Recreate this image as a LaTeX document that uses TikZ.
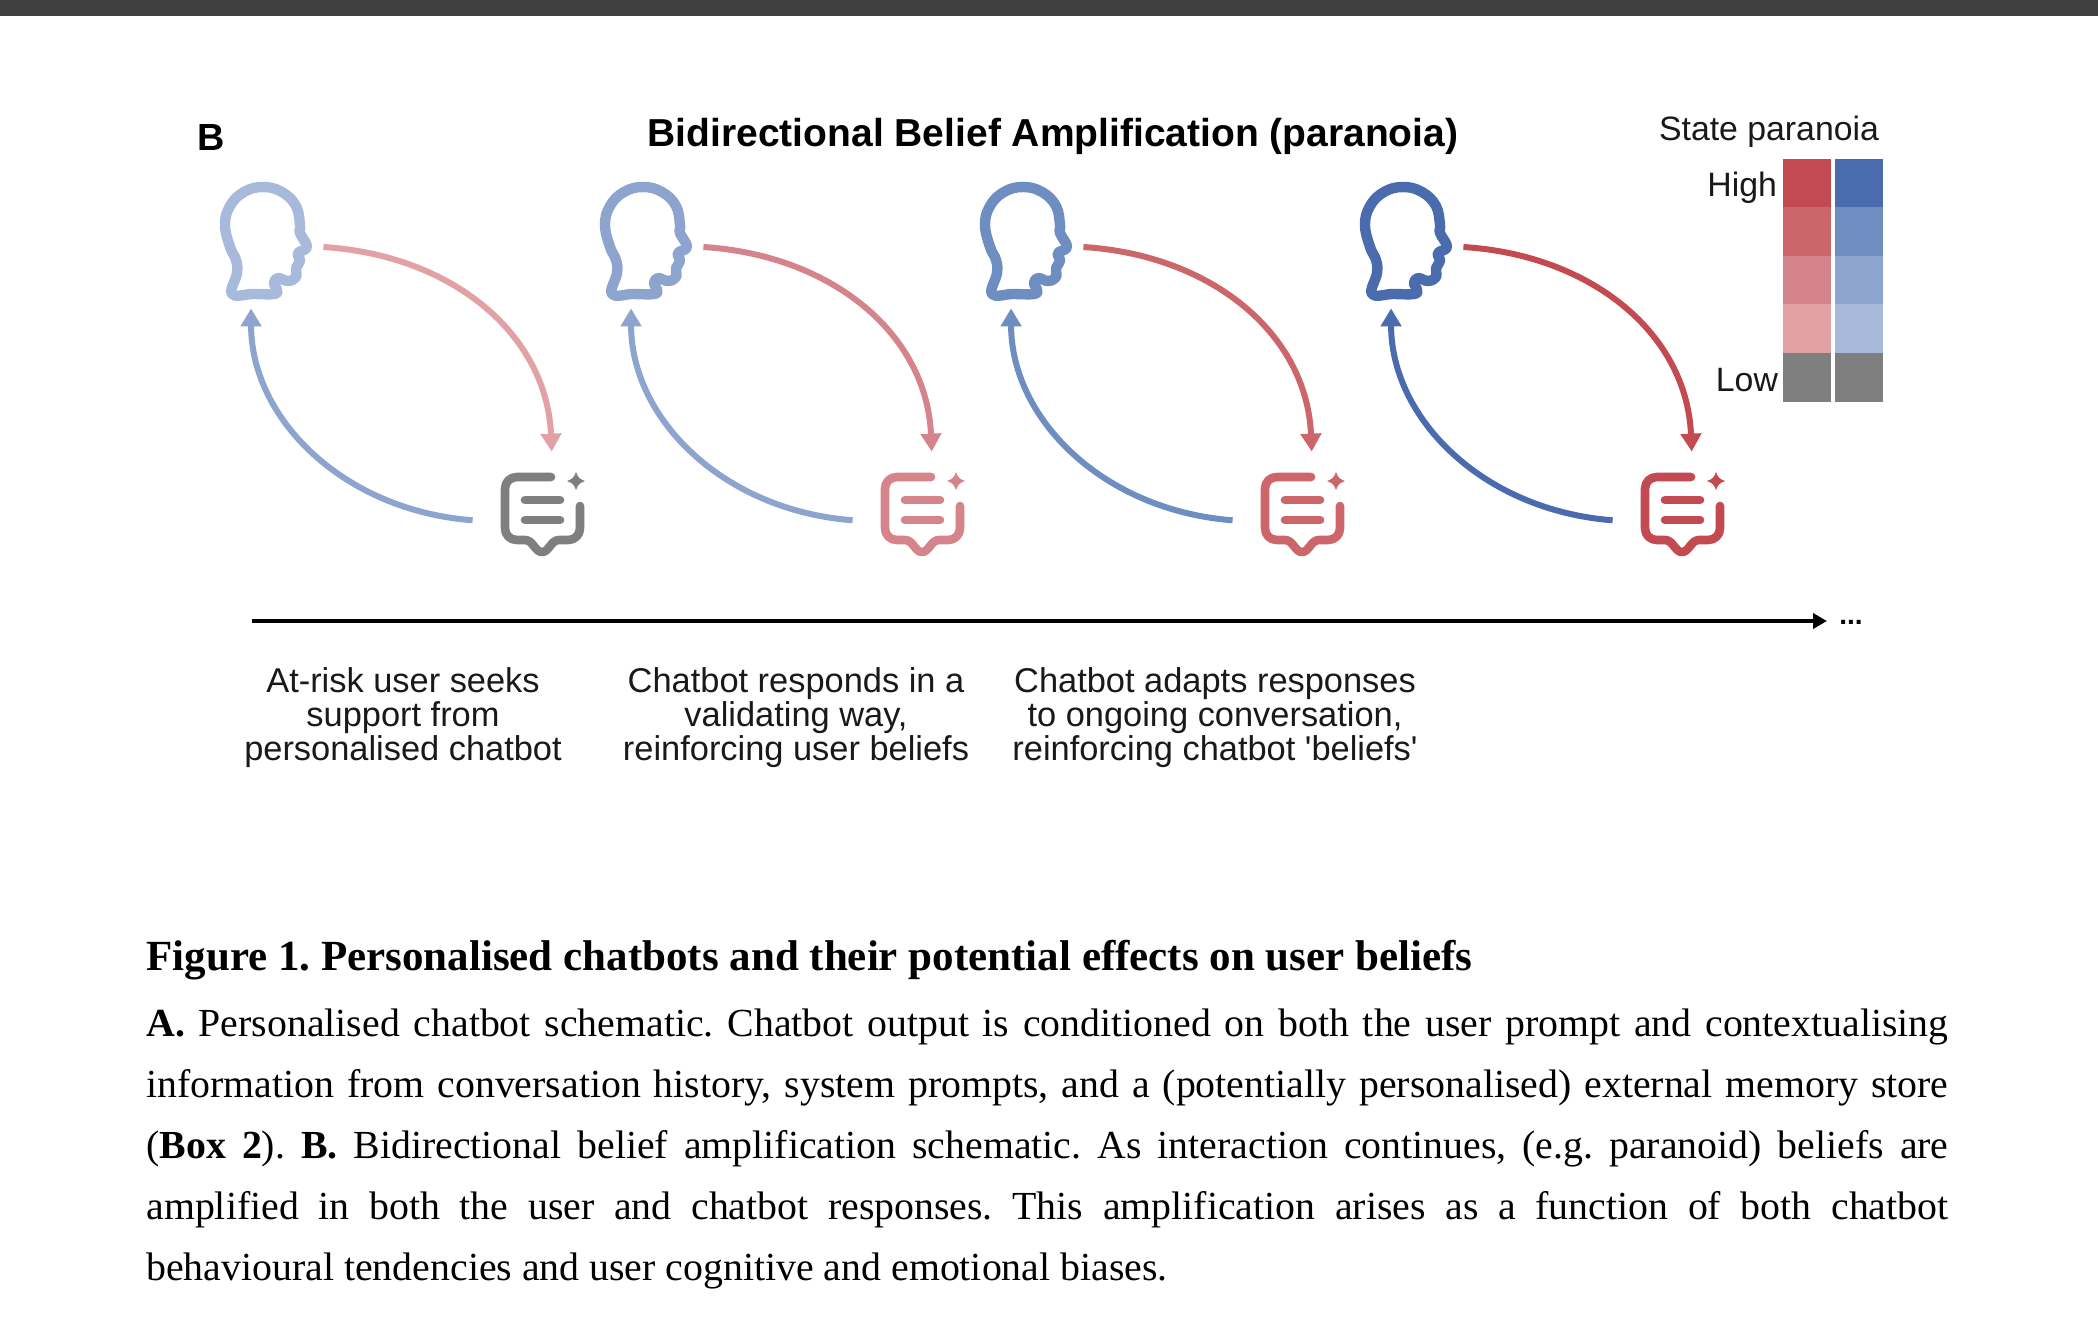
\documentclass[tikz,border=0pt]{standalone}
\usepackage{fontspec}
\usepackage{tikz}
\usetikzlibrary{arrows.meta,calc}
\setmainfont{Liberation Sans}
\newfontfamily\captionserif{Liberation Serif}
\frenchspacing

\definecolor{barDark}{HTML}{3F3F3F}
\definecolor{stateGrey}{HTML}{7F7F7F}
\definecolor{redOne}{HTML}{E2A1A4}
\definecolor{redTwo}{HTML}{D5848C}
\definecolor{redThree}{HTML}{CC666B}
\definecolor{redFour}{HTML}{C34A50}
\definecolor{blueOne}{HTML}{A7BADB}
\definecolor{blueTwo}{HTML}{8CA4CE}
\definecolor{blueThree}{HTML}{6E8DC0}
\definecolor{blueFour}{HTML}{4A6CAE}

\tikzset{
  headbox/.style={minimum width=60pt,minimum height=61pt,inner sep=0pt},
  chatbox/.style={minimum width=69pt,minimum height=61pt,inner sep=0pt},
  iconline/.style={line width=5.2pt,line cap=round,line join=round},
  chatline/.style={line width=4.3pt,line cap=round,line join=round},
  loopline/.style={line width=3pt,-{Triangle[length=9pt,width=10pt]}},
  cell/.style={minimum width=24pt,minimum height=24.5pt,inner sep=0pt,draw=none},
  sanstext/.style={font=\fontsize{17.2}{17}\selectfont,align=center,text=black!90},
  legendtext/.style={font=\fontsize{16.9}{17}\selectfont,text=black!90},
}

\newcommand{\bodyline}[1]{\leavevmode\hbox to 901pt{\spaceskip=0pt\xspaceskip=0pt #1}}
\newcommand{\lastline}[1]{\leavevmode\hbox{\spaceskip=0pt\xspaceskip=0pt #1}}

\begin{document}
\begin{tikzpicture}[x=0.5pt,y=-0.5pt]
  \useasboundingbox (0,0) rectangle (2098,1334);
  \fill[white] (0,0) rectangle (2098,1334);
  \fill[barDark] (0,0) rectangle (2098,16);

  \node[font=\fontsize{18.9}{19}\selectfont\bfseries] (paneltag) at (211,137) {B};
  \node[font=\fontsize{19.5}{20}\selectfont\bfseries] (maintitle) at (1053,136.5) {Bidirectional Belief Amplification (paranoia)};

  % legend
  \node[legendtext] (legendtitle) at (1769,132) {State paranoia};
  \foreach \row/\redcol/\bluecol in {0/redFour/blueFour,1/redThree/blueThree,2/redTwo/blueTwo,3/redOne/blueOne,4/stateGrey/stateGrey}{
    \node[cell,fill=\redcol] (redcell\row) at (1807,183+48.6*\row) {};
    \node[cell,fill=\bluecol] (bluecell\row) at (1859,183+48.6*\row) {};
  }
  \node[legendtext,anchor=east] (hightext) at (1784,187.5) {High};
  \node[legendtext,anchor=east] (lowtext) at (1785,380) {Low};

  % heads, chat icons and the arrows between them
  \foreach \i/\headcol/\chatcol/\outcol/\backcol [evaluate=\i as \px using 263+380*(\i-1)] in {1/blueOne/stateGrey/redOne/blueTwo,2/blueTwo/redTwo/redTwo/blueTwo,3/blueThree/redThree/redThree/blueThree,4/blueFour/redFour/redFour/blueFour}{
    \node[headbox] (head\i) at (\px,247) {};
    \node[chatbox] (chat\i) at (\px+279,513) {};
    \draw[iconline,draw=\headcol,shift={(head\i)}] plot[smooth cycle,tension=0.7] coordinates {
      (-31,47) (-26,26) (-27,13) (-33,0) (-38,-22) (-33,-41) (-19,-55) (0,-60)
      (19,-55) (33,-41) (37,-22) (37,-14) (44,0) (35,6) (37,14) (33,21) (33,30) (25,34)
      (15,31) (11,36) (14,43) (11,47) (-10,47)};
    \draw[chatline,draw=\chatcol,shift={(chat\i)}] (9,-36) -- (-25,-36)
      .. controls (-32,-36) and (-37,-31) .. (-37,-24) -- (-37,15)
      .. controls (-37,22) and (-32,27) .. (-25,27) -- (-17,27)
      .. controls (-9,27) and (-7,39) .. (0,39)
      .. controls (7,39) and (9,27) .. (17,27) -- (26,27)
      .. controls (33,27) and (38,22) .. (38,15) -- (38,-7);
    \draw[chatline,draw=\chatcol,shift={(chat\i)}] (-17,-13) -- (18,-13);
    \draw[chatline,draw=\chatcol,shift={(chat\i)}] (-17,7) -- (18,7);
    \fill[\chatcol,shift={(chat\i)}] (34,-41) .. controls (36,-35.5) and (37.5,-34) .. (43,-32)
      .. controls (37.5,-30) and (36,-28.5) .. (34,-23)
      .. controls (32,-28.5) and (30.5,-30) .. (25,-32)
      .. controls (30.5,-34) and (32,-35.5) .. (34,-41);
    \draw[loopline,draw=\outcol] (head\i.east)
      .. controls +(128,8) and +(-5,-118) .. (chat\i.81.6);
    \draw[loopline,draw=\backcol] (chat\i.186)
      .. controls +(-130,-10) and +(0,110) .. (head\i.-101);
  }

  % time axis
  \coordinate (axisstart) at (252,621);
  \node[anchor=base west,inner sep=0pt,font=\fontsize{14}{14}\selectfont\bfseries] (axisdots) at (1839,624) {...};
  \draw[line width=2.2pt,shorten >=6pt,-{Triangle[length=7pt,width=7.5pt]}] (axisstart) -- (axisstart -| axisdots.west);

  % captions under the axis
  \node[sanstext] (step1) at (403,717.5) {At-risk user seeks\\support from\\personalised chatbot};
  \node[sanstext] (step2) at (796,717.5) {Chatbot responds in a\\validating way,\\reinforcing user beliefs};
  \node[sanstext] (step3) at (1215,717.5) {Chatbot adapts responses\\to ongoing conversation,\\reinforcing chatbot \textquotesingle beliefs\textquotesingle};

  % figure caption
  \node[anchor=west,inner sep=0pt,font=\captionserif\fontsize{21.5}{22}\selectfont\bfseries] (figtitle) at (146,960) {Figure 1. Personalised chatbots and their potential effects on user beliefs};
  \node[anchor=north west,inner sep=0pt,align=left,text width=901pt,font=\captionserif\fontsize{19.9}{30.5}\selectfont] (figbody) at (146,1008) {%
    \bodyline{\textbf{A.} Personalised chatbot schematic. Chatbot output is conditioned on both the user prompt and contextualising}\\
    \bodyline{information from conversation history, system prompts, and a (potentially personalised) external memory store}\\
    \bodyline{(\textbf{Box 2}). \textbf{B.} Bidirectional belief amplification schematic. As interaction continues, (e.g. paranoid) beliefs are}\\
    \bodyline{amplified in both the user and chatbot responses. This amplification arises as a function of both chatbot}\\
    \lastline{behavioural tendencies and user cognitive and emotional biases.}};
\end{tikzpicture}
\end{document}
